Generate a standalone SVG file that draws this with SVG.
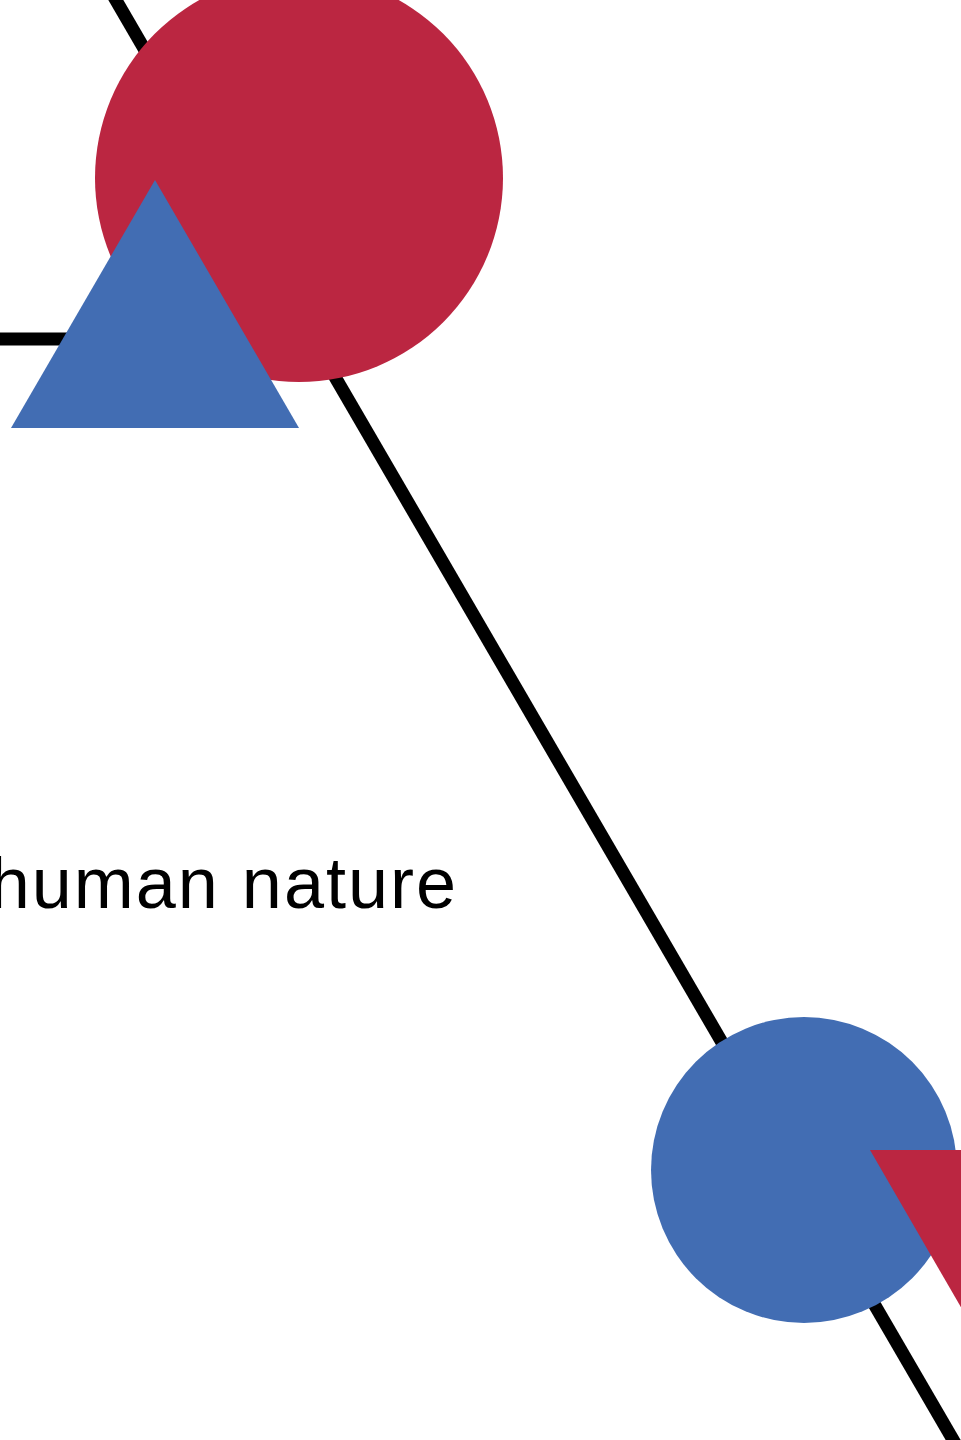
<svg xmlns="http://www.w3.org/2000/svg" width="961" height="1440" viewBox="0 0 961 1440">
<style>
.ln{stroke:#000;stroke-width:13;fill:none}
.red{fill:#BB2641}
.blue{fill:#426DB3}
.lbl{font-family:"Liberation Sans",Arial,sans-serif;font-size:72px;fill:#000;letter-spacing:2px}
</style>
<rect width="961" height="1440" fill="#fff"/>
<g id="lines">
<line class="ln" x1="110" y1="-10" x2="959" y2="1450"/>
<line class="ln" x1="-10" y1="339" x2="80" y2="339"/>
</g>
<g id="red-circle"><circle class="red" cx="299" cy="178" r="204"/></g>
<g id="blue-triangle"><polygon class="blue" points="155,180 299,428 11,428"/></g>
<g id="label"><text class="lbl" x="458" y="908" text-anchor="end">human nature</text></g>
<g id="blue-circle"><circle class="blue" cx="804" cy="1170" r="153"/></g>
<g id="red-triangle"><polygon class="red" points="870,1150 1158,1150 1014,1399"/></g>
</svg>
